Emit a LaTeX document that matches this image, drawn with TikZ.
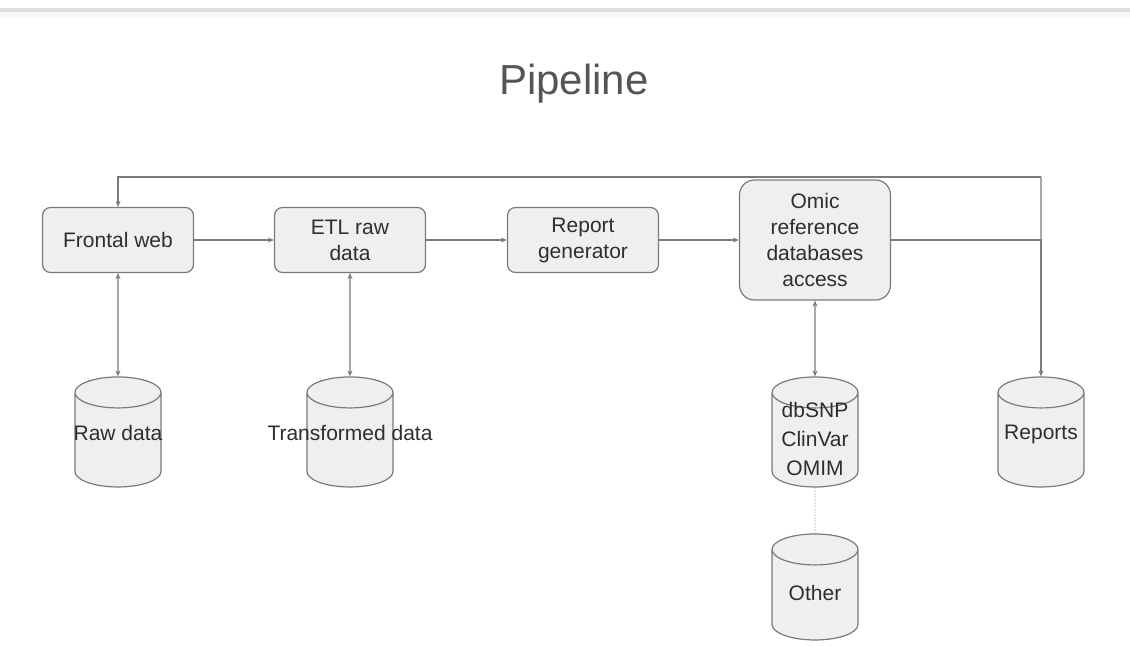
\documentclass[tikz,border=0pt]{standalone}
\usepackage{fontspec}
\setmainfont{Liberation Sans}
\usetikzlibrary{shapes.geometric,arrows.meta}
\definecolor{linegray}{HTML}{7A7A7A}
\definecolor{boxfill}{HTML}{EFEFEF}
\definecolor{txtgray}{HTML}{2E2E2E}
\definecolor{titlegray}{HTML}{555555}
\begin{document}
\begin{tikzpicture}[x=1pt,y=1pt,yscale=-1,xscale=1,
  stepbox/.style={draw=linegray,line width=1.2pt,fill=boxfill,rounded corners=8pt,
    minimum width=151pt,minimum height=65pt,align=center,text=txtgray,
    font=\fontsize{21}{26}\selectfont,inner sep=2pt},
  store/.style 2 args={draw=linegray,line width=1.2pt,fill=boxfill,shape=cylinder,
    shape border rotate=90,aspect=0.36,minimum height=110pt,inner sep=0pt,
    label={[text=txtgray,font=\fontsize{21}{29}\selectfont,align=center,yshift=#2]center:#1}},
  arr/.style={draw=linegray,line width=1.2pt,-{Stealth[length=6pt,width=5pt]}},
  dblarr/.style={draw=linegray,line width=1.2pt,{Stealth[length=6pt,width=5pt]}-{Stealth[length=6pt,width=5pt]}}]
\useasboundingbox (0,0) rectangle (1130,646);

%top bar
\fill [gray!25] (0,8) rectangle (1130,12);
\fill [gray!6] (0,12) rectangle (1130,18);

% Title
\node (title) at (574,84) [text=titlegray,font=\fontsize{42}{48}\selectfont] {Pipeline};

% Process boxes
\node (frontal) at (118,240) [stepbox] {Frontal web};
\node (etl) at (350,240) [stepbox] {ETL raw\\data};
\node (report) at (583,240) [stepbox] {Report\\generator};
\node (omic) at (815,240) [stepbox,rounded corners=15pt,minimum height=120pt] {Omic\\reference\\databases\\access};

% Stores
\node (rawdb) at (118,440) [store={Raw data}{7pt}] {\rule{86pt}{0pt}};
\node (transdb) at (350,440) [store={Transformed data}{7pt}] {\rule{86pt}{0pt}};
\node (refdb) at (815,440) [store={dbSNP\\ClinVar\\OMIM}{1pt}] {\rule{86pt}{0pt}};
\node (reportsdb) at (1041,440) [store={Reports}{6pt}] {\rule{86pt}{0pt}};
\node (otherdb) at (815,595) [store={Other}{2pt},minimum height=106pt] {\rule{86pt}{0pt}};

% Connectors
\coordinate (loop) at (1041,177);
\draw [arr] (frontal) -- (etl);
\draw [arr] (etl) -- (report);
\draw [arr] (report) -- (omic);
\draw [arr] (omic.east) -| (reportsdb.north);
\draw [draw=linegray,line width=1.2pt] (loop) -- (reportsdb.north |- omic.east);
\draw [arr] (loop) -| (frontal.north);
\draw [dblarr] (frontal) -- (rawdb);
\draw [dblarr] (etl) -- (transdb);
\draw [dblarr] (omic) -- (refdb);
\draw [draw=linegray!70,line width=1pt,dotted] (refdb) -- (otherdb);

\end{tikzpicture}
\end{document}
